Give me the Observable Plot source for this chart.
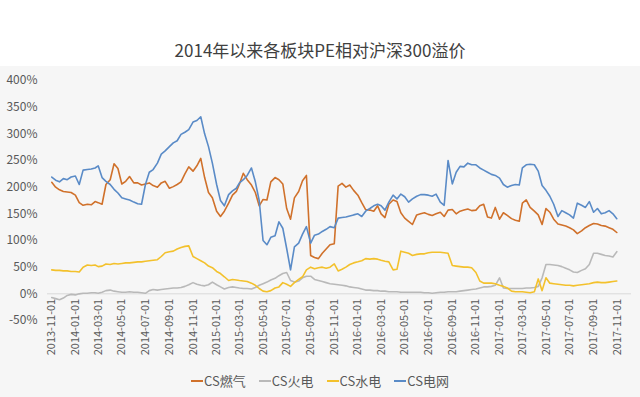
<!DOCTYPE html>
<html>
<head>
<meta charset="utf-8">
<script src="https://cdn.jsdelivr.net/npm/d3@7"></script>
<script src="https://cdn.jsdelivr.net/npm/@observablehq/plot@0.6"></script>
<style>
html, body { margin: 0; padding: 0; background: #ffffff; }
#wrap { position: relative; width: 640px; height: 397px; overflow: hidden; font-family: "Noto Sans CJK SC", "Noto Sans", sans-serif; }
#title { position: absolute; left: 0; top: 38px; width: 640px; text-align: center; font-size: 17px; line-height: 24px; color: #404040; }
#panel { position: absolute; left: 0; top: 66px; width: 640px; height: 331px; background: #f6f6f6; }
#chart { position: absolute; left: 0; top: 0; }
#legend { position: absolute; left: 0; top: 305px; width: 640px; display: flex; justify-content: center; gap: 13px; font-size: 13px; color: #595959; line-height: 20px; }
.item { display: flex; align-items: center; }
.sw { display: inline-block; width: 12px; height: 2px; margin-right: 1px; }
</style>
</head>
<body>
<div id="wrap">
  <div id="title">2014年以来各板块PE相对沪深300溢价</div>
  <div id="panel">
    <div id="chart"></div>
    <div id="legend"></div>
  </div>
</div>
<script>
const dates = [
"2013-11-01","2013-11-11","2013-11-21","2013-12-01","2013-12-11","2013-12-21",
"2014-01-01","2014-01-11","2014-01-21","2014-02-01","2014-02-11","2014-02-21",
"2014-03-01","2014-03-11","2014-03-21","2014-04-01","2014-04-11","2014-04-21",
"2014-05-01","2014-05-11","2014-05-21","2014-06-01","2014-06-11","2014-06-21",
"2014-07-01","2014-07-11","2014-07-21","2014-08-01","2014-08-11","2014-08-21",
"2014-09-01","2014-09-11","2014-09-21","2014-10-01","2014-10-11","2014-10-21",
"2014-11-01","2014-11-11","2014-11-21","2014-12-01","2014-12-11","2014-12-21",
"2015-01-01","2015-01-11","2015-01-21","2015-02-01","2015-02-11","2015-02-21",
"2015-03-01","2015-03-11","2015-03-21","2015-04-01","2015-04-11","2015-04-21",
"2015-05-01","2015-05-11","2015-05-21","2015-06-01","2015-06-11","2015-06-21",
"2015-07-01","2015-07-11","2015-07-21","2015-08-01","2015-08-11","2015-08-21",
"2015-09-01","2015-09-11","2015-09-21","2015-10-01","2015-10-11","2015-10-21",
"2015-11-01","2015-11-11","2015-11-21","2015-12-01","2015-12-11","2015-12-21",
"2016-01-01","2016-01-11","2016-01-21","2016-02-01","2016-02-11","2016-02-21",
"2016-03-01","2016-03-11","2016-03-21","2016-04-01","2016-04-11","2016-04-21",
"2016-05-01","2016-05-11","2016-05-21","2016-06-01","2016-06-11","2016-06-21",
"2016-07-01","2016-07-11","2016-07-21","2016-08-01","2016-08-11","2016-08-21",
"2016-09-01","2016-09-11","2016-09-21","2016-10-01","2016-10-11","2016-10-21",
"2016-11-01","2016-11-11","2016-11-21","2016-12-01","2016-12-11","2016-12-21",
"2017-01-01","2017-01-11","2017-01-21","2017-02-01","2017-02-11","2017-02-21",
"2017-03-01","2017-03-11","2017-03-21","2017-04-01","2017-04-11","2017-04-21",
"2017-05-01","2017-05-11","2017-05-21","2017-06-01","2017-06-11","2017-06-21",
"2017-07-01","2017-07-11","2017-07-21","2017-08-01","2017-08-11","2017-08-21",
"2017-09-01","2017-09-11","2017-09-21","2017-10-01","2017-10-11","2017-10-21",
"2017-10-31"
];

// CS燃气 (%)
const gas = [
209,200,195, 192,191,190,
185,171,166, 168,167,173, 171,168,205, 214,244,235, 206,211,220, 208,208,204,
206,208,203, 200,208,211, 198,201,205, 210,225,238, 230,240,254, 218,190,180,
155,145,155, 170,185,192, 206,226,214, 204,190,165, 177,176,210, 218,214,206,
160,140,180, 192,212,222, 72,68,66, 76,84,92, 94,202,207, 200,204,194,
185,171,158, 157,155,165, 150,143,168, 176,173,152, 142,136,130, 148,150,152,
149,147,150, 153,145,157, 158,150,155, 157,159,156, 157,165,168, 144,142,162,
140,152,147, 141,138,136, 170,176,162, 155,148,130, 160,153,140, 131,129,127,
124,120,113, 118,124,128, 132,131,128, 127,124,121,
115
];

// CS火电 (%)
const thermal = [
-7,-9,-11, -8,-3,-1,
-2,0,1, 1,2,2, 1,3,6, 7,5,4, 3,3,4, 3,3,2,
1,6,8, 7,8,9, 10,11,11, 12,14,17, 21,18,16, 15,17,22,
17,13,9, 12,13,12, 11,10,10, 9,12,16, 19,22,26, 29,34,38,
40,25,22, 24,30,33, 33,27,25, 23,21,19, 18,17,16, 15,13,12,
11,9,7, 7,6,6, 5,5,4, 4,4,3, 3,3,3, 3,3,2,
2,1,2, 3,3,4, 4,4,5, 6,7,8, 9,11,13, 13,14,16,
30,11,10, 10,10,10, 10,11,11, 12,14,30, 55,55,54, 53,51,48,
45,41,40, 44,47,55, 76,76,74, 72,71,69,
79
];

// CS水电 (%)
const hydro = [
45,44,44, 43,43,42,
42,41,50, 54,53,54, 51,52,56, 55,57,56, 57,58,58, 59,60,60,
61,62,63, 64,70,77, 79,80,84, 87,89,90, 70,66,62, 58,52,49,
42,38,32, 25,27,26, 25,24,23, 20,16,10, 5,4,6, 11,13,21,
18,14,21, 27,32,45, 50,47,49, 50,48,50, 56,43,46, 50,55,58,
60,62,66, 65,66,65, 63,61,60, 45,46,80, 78,76,72, 74,75,75,
77,78,78, 78,77,76, 53,52,51, 50,50,49, 40,24,20, 20,20,19,
16,14,11, 5,4,4, 4,3,2, 4,28,6, 30,20,19, 18,17,16,
16,15,16, 17,18,19, 21,22,21, 21,22,23,
24
];

// CS电网 (%)
const power = [
219,213,210, 216,214,219,
221,205,232, 233,234,236, 240,218,211, 205,196,189, 180,178,176, 172,169,168,
205,228,233, 245,262,268, 276,283,287, 299,303,308, 322,325,332, 300,276,245,
205,175,165, 186,193,198, 208,214,222, 236,210,175, 100,92,106, 109,135,123,
85,45,88, 95,112,126, 95,110,112, 117,121,126, 124,142,143, 144,146,148,
150,145,155, 160,165,168, 165,157,172, 185,178,187, 182,172,178, 183,186,186,
185,183,187, 172,166,250, 206,228,239, 238,245,242, 242,236,232, 228,224,222,
217,205,200, 203,205,204, 236,242,243, 242,230,203, 194,183,168, 145,156,152,
148,142,170, 166,162,173, 153,160,150, 152,156,150,
141
];

const seriesNames = ["CS燃气", "CS火电", "CS水电", "CS电网"];
const seriesColors = ["#D0712B", "#B9B9B9", "#F3C12C", "#5A8BC7"];
const seriesValues = [gas, thermal, hydro, power];

const yTicks = [-50, 0, 50, 100, 150, 200, 250, 300, 350, 400];
const xTickLabels = [
"2013-11-01","2014-01-01","2014-03-01","2014-05-01","2014-07-01","2014-09-01",
"2014-11-01","2015-01-01","2015-03-01","2015-05-01","2015-07-01","2015-09-01",
"2015-11-01","2016-01-01","2016-03-01","2016-05-01","2016-07-01","2016-09-01",
"2016-11-01","2017-01-01","2017-03-01","2017-05-01","2017-07-01","2017-09-01",
"2017-11-01"
];

const parse = d3.utcParse("%Y-%m-%d");
const n = dates.length;

const lineMarks = seriesValues.map((vals, k) => {
  const rows = [];
  for (let i = 0; i < Math.min(n, vals.length); i++) rows.push({date: parse(dates[i]), value: vals[i]});
  return Plot.line(rows, {x: "date", y: "value", stroke: seriesColors[k], strokeWidth: 1.6, strokeLinejoin: "round"});
});

const chart = Plot.plot({
  width: 640,
  height: 296,
  marginLeft: 47,
  marginRight: 9,
  marginTop: 14,
  marginBottom: 42,
  style: {background: "transparent", fontFamily: "'Noto Sans CJK SC', 'Noto Sans', sans-serif", color: "#595959"},
  x: {type: "utc", domain: [parse("2013-10-21"), parse("2017-12-08")], axis: null, label: null},
  y: {domain: [-50, 400], axis: null, label: null},
  marks: [
    Plot.axisY(yTicks, {tickSize: 0, tickPadding: 10, tickFormat: d => d + "%", fontSize: 12, fill: "#595959", label: null}),
    Plot.ruleY([0], {stroke: "#d9d9d9", strokeWidth: 1}),
    ...lineMarks,
    Plot.text(xTickLabels, {x: d => parse(d), y: 0, text: d => d, rotate: -90, textAnchor: "end", dy: 5, fontSize: 11, fill: "#595959"})
  ]
});
document.getElementById("chart").appendChild(chart);

const legend = document.getElementById("legend");
seriesNames.forEach((name, k) => {
  const item = document.createElement("div");
  item.className = "item";
  const sw = document.createElement("span");
  sw.className = "sw";
  sw.style.background = seriesColors[k];
  const t = document.createElement("span");
  t.textContent = name;
  item.appendChild(sw);
  item.appendChild(t);
  legend.appendChild(item);
});
</script>
</body>
</html>
